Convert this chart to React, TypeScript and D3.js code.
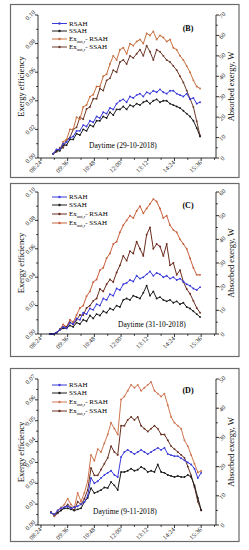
import * as d3 from 'd3';

const FONT = '"Liberation Serif", "Times New Roman", serif';

const xTickLabels = ['08:24', '09:36', '10:48', '12:00', '13:12', '14:24', '15:36'];

// (B) 29-10-2018
const timesB = ['08:57', '09:06', '09:15', '09:24', '09:33', '09:42', '09:51', '10:00', '10:09', '10:18', '10:27', '10:36', '10:45', '10:54', '11:03', '11:12', '11:21', '11:30', '11:39', '11:48', '11:57', '12:06', '12:15', '12:24', '12:33', '12:42', '12:51', '13:00', '13:09', '13:18', '13:27', '13:36', '13:45', '13:54', '14:03', '14:12', '14:21', '14:30', '14:39', '14:48', '14:57', '15:06', '15:15', '15:24', '15:33'];
const effRsahB = [0.003, 0.006, 0.006, 0.010, 0.011, 0.014, 0.015, 0.019, 0.019, 0.023, 0.022, 0.026, 0.025, 0.029, 0.028, 0.032, 0.031, 0.035, 0.034, 0.038, 0.040, 0.041, 0.039, 0.043, 0.042, 0.044, 0.045, 0.043, 0.046, 0.045, 0.047, 0.046, 0.048, 0.046, 0.045, 0.047, 0.047, 0.045, 0.044, 0.043, 0.045, 0.041, 0.042, 0.038, 0.039];
const effSsahB = [0.003, 0.005, 0.005, 0.009, 0.009, 0.013, 0.013, 0.017, 0.016, 0.020, 0.019, 0.023, 0.022, 0.026, 0.026, 0.029, 0.028, 0.032, 0.030, 0.034, 0.034, 0.036, 0.034, 0.037, 0.036, 0.038, 0.037, 0.039, 0.040, 0.038, 0.040, 0.041, 0.039, 0.040, 0.040, 0.038, 0.037, 0.036, 0.035, 0.033, 0.031, 0.029, 0.026, 0.021, 0.015];
const exRsahB = [2, 4, 4, 8, 9, 14, 14, 20, 19, 25, 26, 30, 31, 35, 35, 40, 41, 46, 50, 48, 53, 54, 51, 56, 55, 57, 58, 56, 61, 60, 62, 58, 60, 59, 57, 58, 54, 53, 50, 48, 45, 42, 38, 35, 34];
const exSsahB = [2, 3, 5, 5, 9, 10, 14, 15, 20, 19, 24, 25, 29, 29, 34, 33, 38, 39, 43, 42, 47, 48, 46, 50, 49, 51, 53, 50, 55, 52, 48, 53, 52, 50, 48, 47, 45, 43, 40, 37, 33, 29, 25, 18, 11];

// (C) 31-10-2018
const timesC = ['08:48', '08:57', '09:06', '09:15', '09:24', '09:33', '09:42', '09:51', '10:00', '10:09', '10:18', '10:27', '10:36', '10:45', '10:54', '11:03', '11:12', '11:21', '11:30', '11:39', '11:48', '11:57', '12:06', '12:15', '12:24', '12:33', '12:42', '12:51', '13:00', '13:09', '13:18', '13:27', '13:36', '13:45', '13:54', '14:03', '14:12', '14:21', '14:30', '14:39', '14:48', '14:57', '15:06', '15:15', '15:24', '15:33'];
const effRsahC = [0, 0, 0.001, 0.003, 0.005, 0.004, 0.008, 0.007, 0.011, 0.010, 0.015, 0.014, 0.018, 0.017, 0.021, 0.020, 0.025, 0.024, 0.028, 0.027, 0.032, 0.031, 0.035, 0.036, 0.038, 0.037, 0.041, 0.039, 0.040, 0.042, 0.044, 0.041, 0.043, 0.042, 0.040, 0.041, 0.039, 0.040, 0.038, 0.039, 0.037, 0.035, 0.034, 0.032, 0.031, 0.033];
const effSsahC = [0, 0, 0.001, 0.003, 0.004, 0.004, 0.006, 0.005, 0.008, 0.007, 0.010, 0.009, 0.013, 0.011, 0.014, 0.013, 0.016, 0.015, 0.018, 0.017, 0.020, 0.019, 0.024, 0.025, 0.024, 0.027, 0.026, 0.025, 0.029, 0.034, 0.027, 0.030, 0.025, 0.026, 0.024, 0.023, 0.024, 0.022, 0.023, 0.021, 0.022, 0.019, 0.018, 0.016, 0.014, 0.012];
const exRsahC = [0, 0, 0.5, 2, 3, 3, 5, 4, 6, 8, 8, 11, 12, 14, 15, 19, 18, 21, 23, 22, 26, 29, 33, 31, 35, 34, 39, 36, 33, 42, 45, 36, 38, 37, 33, 38, 29, 30, 25, 27, 22, 19, 17, 14, 11, 9];
const exSsahC = [0, 0, 0.5, 2, 4, 3, 6, 5, 8, 11, 12, 16, 18, 22, 23, 27, 28, 32, 34, 38, 39, 43, 46, 48, 50, 49, 52, 54, 51, 53, 55, 57, 56, 53, 49, 50, 46, 44, 43, 40, 38, 36, 32, 28, 25, 25];

// (D) 9-11-2018
const timesD = ['08:51', '09:00', '09:09', '09:18', '09:27', '09:36', '09:45', '09:54', '10:03', '10:12', '10:21', '10:30', '10:39', '10:48', '10:57', '11:06', '11:15', '11:24', '11:33', '11:42', '11:51', '12:00', '12:09', '12:18', '12:27', '12:36', '12:45', '12:54', '13:03', '13:12', '13:21', '13:30', '13:39', '13:48', '13:57', '14:06', '14:15', '14:24', '14:33', '14:42', '14:51', '15:00', '15:09', '15:18', '15:27', '15:36'];
const effRsahD = [0.006, 0.005, 0.007, 0.008, 0.0085, 0.009, 0.008, 0.0085, 0.009, 0.010, 0.011, 0.014, 0.0225, 0.020, 0.021, 0.0225, 0.024, 0.025, 0.026, 0.024, 0.023, 0.0326, 0.035, 0.036, 0.035, 0.034, 0.035, 0.036, 0.035, 0.034, 0.035, 0.036, 0.037, 0.036, 0.037, 0.034, 0.0335, 0.033, 0.033, 0.032, 0.031, 0.030, 0.029, 0.027, 0.0225, 0.025];
const effSsahD = [0.006, 0.005, 0.006, 0.007, 0.008, 0.008, 0.0075, 0.007, 0.0075, 0.008, 0.011, 0.013, 0.0177, 0.0153, 0.016, 0.0168, 0.018, 0.0177, 0.0206, 0.019, 0.0168, 0.0254, 0.0254, 0.026, 0.027, 0.026, 0.0265, 0.0278, 0.027, 0.0254, 0.026, 0.0254, 0.029, 0.0254, 0.025, 0.024, 0.0235, 0.023, 0.0235, 0.023, 0.023, 0.024, 0.023, 0.019, 0.013, 0.0072];
const exRsahD = [4.5, 3, 5, 6, 7, 9, 7, 6, 11, 8, 11, 15, 24, 22, 26, 25, 28, 31, 35, 33, 31, 43, 44, 46, 48, 47, 48, 46, 47, 48, 49, 46, 45, 44, 45, 41, 37, 35, 34, 33, 29, 27, 24, 21, 18, 18.5];
const exSsahD = [4.5, 3, 4, 5, 6, 7, 6, 5, 8, 7, 9, 12, 19.5, 17, 17, 19, 21, 23, 27, 25, 24, 34, 34, 36, 37, 36, 37, 34, 33, 32, 33, 34, 33, 31, 31, 29, 27, 26, 25, 24, 23, 20, 17, 13, 8, 5];

const BLUE = '#3b3bdc';
const BLACK = '#1c1c1c';

const toMin = (s: string) => {
  const [h, m] = s.split(':').map(Number);
  return h * 60 + m;
};

type PanelProps = {
  top: number;
  plotTop: number;
  plotBottom: number;
  times: string[];
  effR: number[];
  effS: number[];
  exR: number[];
  exS: number[];
  effMax: number;
  effStep: number;
  exMax: number;
  exRColor: string;
  exSColor: string;
  tag: string;
  tagY: number;
  date: string;
  dateX: number;
  dateY: number;
  legendY: number[];
};

function Panel(p: PanelProps) {
  const left = 38;
  const right = 216;
  const x = d3.scaleLinear().domain([toMin('08:16'), toMin('16:16')]).range([left, right]);
  const yEff = d3.scaleLinear().domain([0, p.effMax]).range([p.plotBottom, p.plotTop]);
  const yEx = d3.scaleLinear().domain([0, p.exMax]).range([p.plotBottom, p.plotTop]);
  const tm = p.times.map(toMin);

  const effLine = d3.line<number>().x((_, i) => x(tm[i])).y(v => yEff(v));
  const exLine = d3.line<number>().x((_, i) => x(tm[i])).y(v => yEx(v));

  const effTicks = d3.range(0, p.effMax + 1e-9, p.effStep);
  const effMinor = d3.range(p.effStep / 2, p.effMax, p.effStep);
  const exTicks = d3.range(0, p.exMax + 1e-9, 10);
  const exMinor = d3.range(5, p.exMax, 10);
  const xTicks = xTickLabels.map(toMin);
  const xMinor = xTicks.slice(0, -1).map(t => t + 36).concat([toMin('08:24') - 36, toMin('15:36') + 36])
    .filter(t => x(t) >= left && x(t) <= right);

  const series = [
    { vals: p.exS, ex: true, color: p.exSColor },
    { vals: p.exR, ex: true, color: p.exRColor },
    { vals: p.effS, ex: false, color: BLACK },
    { vals: p.effR, ex: false, color: BLUE },
  ];

  const legend = [
    { label: 'RSAH', color: BLUE, ex: false },
    { label: 'SSAH', color: BLACK, ex: false },
    { label: '- RSAH', color: p.exRColor, ex: true },
    { label: '- SSAH', color: p.exSColor, ex: true },
  ];
  const midY = (p.plotTop + p.plotBottom) / 2;

  return (
    <g fontFamily={FONT}>
      <rect x={10.5} y={p.top + 0.5} width={228.5} height={173} fill="none" stroke="#6a6a6a" strokeWidth={1.2} />

      {/* data */}
      {series.map((s, k) => (
        <g key={k}>
          <path d={(s.ex ? exLine : effLine)(s.vals) || ''} fill="none" stroke={s.color} strokeWidth={1} />
          {s.vals.map((v, i) => (
            <circle key={i} cx={x(tm[i])} cy={s.ex ? yEx(v) : yEff(v)} r={0.95} fill={s.color} />
          ))}
        </g>
      ))}

      {/* axes */}
      <g stroke="#000" strokeWidth={0.8}>
        <line x1={left} x2={left} y1={p.plotTop} y2={p.plotBottom} />
        <line x1={right} x2={right} y1={p.plotTop} y2={p.plotBottom} />
        <line x1={left} x2={right} y1={p.plotBottom} y2={p.plotBottom} />
        {effTicks.map(t => <line key={'el' + t} x1={left - 3} x2={left} y1={yEff(t)} y2={yEff(t)} />)}
        {effMinor.map(t => <line key={'em' + t} x1={left - 1.8} x2={left} y1={yEff(t)} y2={yEff(t)} />)}
        {exTicks.map(t => <line key={'xl' + t} x1={right} x2={right + 3} y1={yEx(t)} y2={yEx(t)} />)}
        {exMinor.map(t => <line key={'xm' + t} x1={right} x2={right + 1.8} y1={yEx(t)} y2={yEx(t)} />)}
        {xTicks.map(t => <line key={'tl' + t} x1={x(t)} x2={x(t)} y1={p.plotBottom} y2={p.plotBottom + 3} />)}
        {xMinor.map(t => <line key={'tm' + t} x1={x(t)} x2={x(t)} y1={p.plotBottom} y2={p.plotBottom + 1.8} />)}
      </g>

      <g fontSize={6.3} fill="#222">
        {effTicks.map(t => (
          <text key={'elt' + t} x={left - 8} y={yEff(t)} textAnchor="middle" dominantBaseline="central"
            transform={`rotate(-45 ${left - 8} ${yEff(t)})`}>{d3.format('.2f')(t)}</text>
        ))}
        {exTicks.map(t => (
          <text key={'xlt' + t} x={right + 6} y={yEx(t)} textAnchor="middle" dominantBaseline="central"
            transform={`rotate(-45 ${right + 6} ${yEx(t)})`}>{t}</text>
        ))}
        {xTicks.map((t, i) => (
          <text key={'tlt' + t} x={x(t) + 1} y={p.plotBottom + 5} textAnchor="end"
            transform={`rotate(-45 ${x(t) + 1} ${p.plotBottom + 5})`}>{xTickLabels[i]}</text>
        ))}
      </g>

      {/* axis titles */}
      <text x={24} y={midY} fontSize={8.5} textAnchor="middle" transform={`rotate(-90 24 ${midY})`}>Exergy efficiency</text>
      <text x={234} y={midY} fontSize={8.5} textAnchor="middle" transform={`rotate(-90 234 ${midY})`}>Absorbed exergy, W</text>

      {/* legend */}
      {legend.map((l, i) => (
        <g key={l.label + i}>
          <line x1={52} x2={67} y1={p.legendY[i]} y2={p.legendY[i]} stroke={l.color} strokeWidth={1} />
          <circle cx={59.5} cy={p.legendY[i]} r={1.2} fill={l.color} />
          <text x={69} y={p.legendY[i] + 2.4} fontSize={7}>
            {l.ex ? (
              <>
                Ex
                <tspan fontSize={4.5} dy={1.5}>out,r</tspan>
                <tspan dy={-1.5}>{l.label}</tspan>
              </>
            ) : l.label}
          </text>
        </g>
      ))}

      <text x={p.dateX} y={p.dateY} fontSize={7.5}>{p.date}</text>
      <text x={188} y={p.tagY} fontSize={8} fontWeight="bold" textAnchor="middle">{p.tag}</text>
    </g>
  );
}

export default function App() {
  return (
    <svg width={249} height={550} style={{ position: 'absolute', left: 0, top: 0, background: '#fff' }}>
      <Panel top={4} plotTop={15} plotBottom={158} times={timesB}
        effR={effRsahB} effS={effSsahB} exR={exRsahB} exS={exSsahB}
        effMax={0.1} effStep={0.02} exMax={70}
        exRColor="#c8703e" exSColor="#6e3b2b"
        tag="(B)" tagY={30.5} date="Daytime (29-10-2018)" dateX={89} dateY={148}
        legendY={[23.5, 31, 39, 47]} />
      <Panel top={183} plotTop={192} plotBottom={334} times={timesC}
        effR={effRsahC} effS={effSsahC} exR={exRsahC} exS={exSsahC}
        effMax={0.1} effStep={0.02} exMax={60}
        exRColor="#6b2c1e" exSColor="#c8603c"
        tag="(C)" tagY={208} date="Daytime (31-10-2018)" dateX={118} dateY={327}
        legendY={[197, 205, 214, 223]} />
      <Panel top={368} plotTop={379} plotBottom={525} times={timesD}
        effR={effRsahD} effS={effSsahD} exR={exRsahD} exS={exSsahD}
        effMax={0.07} effStep={0.01} exMax={50}
        exRColor="#cf7650" exSColor="#6a3222"
        tag="(D)" tagY={393} date="Daytime (9-11-2018)" dateX={93} dateY={514}
        legendY={[385, 393, 402, 411]} />
    </svg>
  );
}
